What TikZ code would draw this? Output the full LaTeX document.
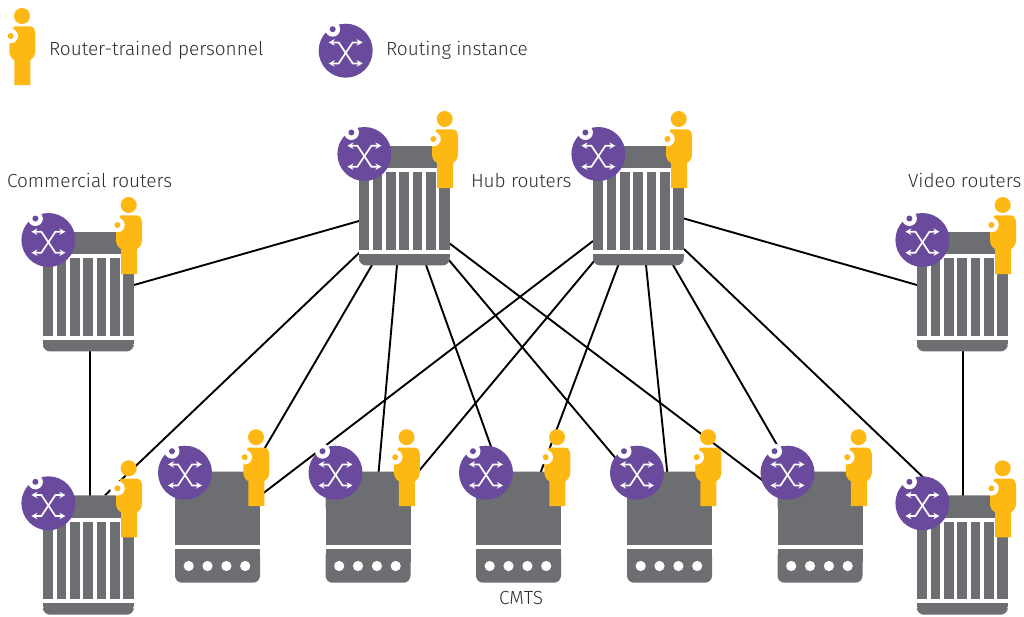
\documentclass[tikz,border=0pt]{standalone}
\usepackage{fontspec}
\setmainfont{Fira Sans Light}
\usetikzlibrary{arrows.meta}
\definecolor{rgray}{HTML}{6D6E71}
\definecolor{rpurple}{HTML}{6A4A9C}
\definecolor{rorange}{HTML}{FDB813}
\definecolor{rtext}{HTML}{2E2E30}
\tikzset{
  routerbox/.style={minimum width=90.7pt,minimum height=119.4pt,inner sep=0pt,outer sep=0pt,anchor=north west},
  cmtsbox/.style={minimum width=85pt,minimum height=111pt,inner sep=0pt,outer sep=0pt,anchor=north west},
  link/.style={line width=1.9pt,black},
  lab/.style={text=rtext,font=\fontsize{19}{21}\selectfont,inner sep=0pt,outer sep=0pt,anchor=base west},
  xarrow/.style={white,line width=1.7pt,{Stealth[length=6pt,width=6.5pt]}-{Stealth[length=6pt,width=6.5pt]}},
  personfig/.pic={
    \fill[rorange] (0,0) circle[radius=8];
    \fill[rorange] (-7.7,69) -- (-7.7,44) .. controls (-11,42) and (-12.7,39) .. (-12.7,35)
      -- (-12.7,20) -- (-8,10.3) -- (7.3,10.3) .. controls (11,10.3) and (13.3,13) .. (13.3,16)
      -- (13.3,35) .. controls (13.3,39) and (11.5,42) .. (8.3,44) -- (8.3,69) -- cycle;
    \fill[white] (-11.3,20) circle[radius=7.3];
    \fill[rorange] (-11.3,20) circle[radius=3];
  },
  routingfig/.pic={
    \fill[rpurple] (0,0) circle[radius=27];
    \fill[white] (-13,-21.5) circle[radius=7.5];
    \fill[rpurple] (-13,-21.5) circle[radius=3];
    \draw[xarrow] (-17,-8.3) -- (-7,-8.3) -- (7,12.7) -- (17,12.7);
    \draw[xarrow] (17,-8.3) -- (7,-8.3) -- (-7,12.7) -- (-17,12.7);
  },
  routerfig/.pic={
    \fill[rgray,rounded corners=5pt] (0,60) -- (0,0) -- (90.7,0) -- (90.7,60) -- cycle;
    \fill[white] (10,22.4) rectangle (80.1,26.4);
    \fill[rgray] (0,20) rectangle (10,104);
    \fill[rgray] (80.1,20) rectangle (90.7,104);
    \fill[white] (10,26.4) rectangle (80.1,70);
    \foreach \bx in {13.7,27.05,40.4,53.75,67.1}{\fill[rgray] (\bx,26.4) rectangle ++(9.7,77.6);}
    \fill[white] (0,104) rectangle (90.7,108);
    \fill[rgray,rounded corners=7pt] (0,108) -- (90.7,108) -- (90.7,119.4) -- (0,119.4) -- cycle;
    \fill[rgray] (0,108) rectangle (90.7,112);
  },
  cmtsfig/.pic={
    \fill[rgray,rounded corners=5pt] (0,40) -- (0,0) -- (85,0) -- (85,40) -- cycle;
    \fill[rgray] (0,20) rectangle (85,73.3);
    \fill[rgray,rounded corners=7pt] (0,77.3) -- (85,77.3) -- (85,111) -- (0,111) -- cycle;
    \fill[rgray] (0,77.3) rectangle (85,90);
    \foreach \dx in {13.7,32.5,51.4,70.2}{\fill[white] (\dx,94.3) circle[radius=5.1];}
  }
}
\begin{document}
\begin{tikzpicture}[x=1pt,y=-1pt]
\useasboundingbox[fill=white] (0,0) rectangle (1024,616);
% devices as anchors
\node[routerbox] (hubA) at (359,146) {};
\node[routerbox] (hubB) at (593,146) {};
\node[routerbox] (com) at (43,232) {};
\node[routerbox] (vid) at (917,232) {};
\node[routerbox] (bl) at (43,495.3) {};
\node[routerbox] (br) at (917,495.3) {};
\node[cmtsbox] (cA) at (175,471.7) {};
\node[cmtsbox] (cB) at (325.5,471.7) {};
\node[cmtsbox] (cC) at (476,471.7) {};
\node[cmtsbox] (cD) at (627,471.7) {};
\node[cmtsbox] (cE) at (777.5,471.7) {};
% connectors
\newcommand\lnk[4]{\draw[link] ([shift={(#2)}]#1.north west) -- ([shift={(#4)}]#3.north west);}
\lnk{hubA}{0,75}{com}{91,53}
\lnk{hubA}{1,106}{bl}{62,0}
\lnk{hubA}{13,119}{cA}{76,0}
\lnk{hubA}{38,119}{cB}{52.7,5}
\lnk{hubA}{67,119}{cC}{24,0}
\lnk{hubA}{89,113}{cD}{0,0}
\lnk{hubA}{90,97}{cE}{0,20}
\lnk{hubB}{0,95}{cA}{85,24}
\lnk{hubB}{2,114}{cB}{92.8,0}
\lnk{hubB}{25.3,119}{cC}{63,5}
\lnk{hubB}{53,119}{cD}{40.7,5}
\lnk{hubB}{80,119}{cE}{15,0}
\lnk{hubB}{91,103}{br}{25,0}
\lnk{hubB}{91,72.5}{vid}{0,53}
\lnk{com}{47,119}{bl}{47,5}
\lnk{vid}{46,119}{br}{46,5}
% device drawings
\foreach \n in {hubA,hubB,com,vid,bl,br}{
  \pic at (\n.north west) {routerfig};
  \pic at ([shift={(5.4,8)}]\n.north west) {routingfig};
  \pic at ([shift={(85.7,-27)}]\n.north west) {personfig};
}
\foreach \n in {cA,cB,cC,cD,cE}{
  \pic at (\n.north west) {cmtsfig};
  \pic at ([shift={(10,1)}]\n.north west) {routingfig};
  \pic at ([shift={(81,-34.5)}]\n.north west) {personfig};
}
% legend
\coordinate (legP) at (22,16);
\coordinate (legR) at (345.7,50.7);
\pic at (legP) {personfig};
\pic at (legR) {routingfig};
\node[lab] (t1) at (49,55) {Router-trained personnel};
\node[lab] (t2) at (386,55) {Routing instance};
\node[lab] (t3) at (7,187) {Commercial routers};
\node[lab] (t4) at (471,187) {Hub routers};
\node[lab] (t5) at (908,187) {Video routers};
\node[lab] (t6) at (499,604) {CMTS};
\end{tikzpicture}
\end{document}
